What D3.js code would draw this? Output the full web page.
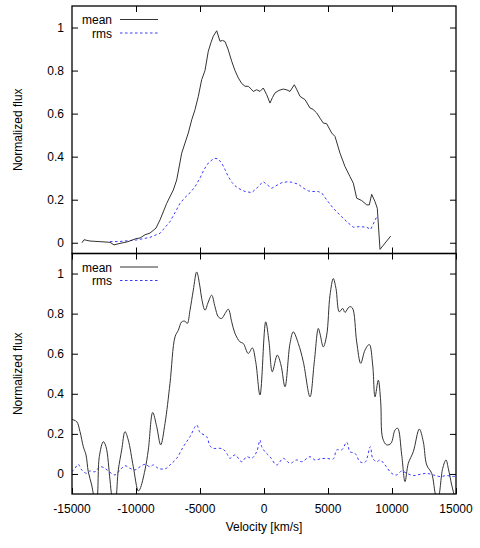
<!DOCTYPE html>
<html>
<head>
<meta charset="utf-8">
<script src="https://cdn.jsdelivr.net/npm/d3@7"></script>
<style>
  body { margin: 0; background: #fff; }
  svg { display: block; }
  text { font-family: "Liberation Sans", Arial, Helvetica, sans-serif; }
</style>
</head>
<body>
<div id="chart"></div>
<script>
// upper panel: mean and rms profiles (velocity km/s, normalized flux)
const topMeanVel = [-14220, -14063, -13594, -12813, -12031, -11719, -11250, -10625, -10000, -9688, -9297, -8906, -8438,
  -8125, -7602, -7086, -6820, -6430, -6172, -5914, -5648, -5391, -5133, -4867, -4609, -4352, -4141, -3961, -3695,
  -3438, -3242, -3047, -2813, -2523, -2266, -2008, -1742, -1484, -1227, -1016, -836, -570, -313, -55, 211, 469,
  664, 859, 1172, 1508, 1797, 2031, 2367, 2578, 2813, 3203, 3594, 3828, 4117, 4375, 4633, 4898, 5289, 5547,
  5938, 6328, 6719, 6977, 7242, 7633, 8023, 8227, 8414, 8672, 8852, 9063, 9898];
const topMeanFlux = [0.0, 0.014, 0.008, 0.005, 0.002, -0.01, -0.003, 0.005, 0.019, 0.022, 0.037, 0.045, 0.068,
  0.106, 0.183, 0.245, 0.292, 0.416, 0.463, 0.51, 0.571, 0.618, 0.68, 0.758, 0.80, 0.89, 0.93, 0.96, 0.985,
  0.936, 0.94, 0.935, 0.90, 0.843, 0.80, 0.766, 0.74, 0.727, 0.727, 0.715, 0.703, 0.711, 0.703, 0.719, 0.688, 0.649,
  0.675, 0.696, 0.708, 0.714, 0.71, 0.703, 0.734, 0.71, 0.68, 0.665, 0.626, 0.62, 0.603, 0.579, 0.556, 0.553, 0.51, 0.494,
  0.416, 0.354, 0.307, 0.277, 0.207, 0.196, 0.176, 0.176, 0.225, 0.191, 0.16, -0.031, 0.031];

const topRmsVel = [-12031, -11250, -9945, -8906, -8125, -7344, -6953, -6563, -6172, -5781, -5391, -5000, -4688,
  -4352, -4063, -3828, -3594, -3305, -3047, -2789, -2500, -2266, -2008, -1484, -961, -570, -313, -55, 234, 602,
  938, 1383, 1797, 2164, 2680, 3047, 3461, 3828, 4242, 4531, 4898, 5414, 5938, 6461, 6977, 7500, 8023, 8336,
  8539, 8805, 8867];
const topRmsFlux = [0.005, 0.006, 0.013, 0.025, 0.044, 0.098, 0.14, 0.183, 0.21, 0.232, 0.26, 0.30, 0.34,
  0.37, 0.385, 0.392, 0.39, 0.37, 0.34, 0.307, 0.28, 0.265, 0.253, 0.238, 0.233, 0.253, 0.27, 0.284, 0.27, 0.253,
  0.265, 0.279, 0.283, 0.281, 0.272, 0.255, 0.241, 0.238, 0.238, 0.23, 0.199, 0.16, 0.129, 0.098, 0.072, 0.075, 0.072, 0.062,
  0.087, 0.121, 0.115];

// lower panel
const botMeanVel = [-15000, -14633, -14375, -14117, -13906, -13727, -13461, -13281, -13086, -12867, -12555, -12344,
  -12031, -11875, -11641, -11383, -11117, -10859, -10602, -10211, -9820, -9688, -9297, -9039, -8695, -8383, -8070,
  -7734, -7344, -6953, -6695, -6430, -6172, -5992, -5781, -5523, -5258, -5000, -4867, -4609, -4352, -4086, -3828,
  -3570, -3305, -3047, -2789, -2523, -2266, -1875, -1617, -1227, -914, -648, -313, 133, 391, 648, 1039, 1328, 1641,
  2031, 2289, 2680, 3070, 3594, 3930, 4242, 4375, 4633, 4898, 5156, 5414, 5625, 5883, 6148, 6328, 6664, 6898, 7242,
  7555, 7891, 8227, 8492, 8672, 8930, 9117, 9273, 9586, 9922, 10234, 10445, 10758, 11016, 11273, 11664, 12133,
  12445, 12711, 13102, 13438, 13594, 13961, 14219, 14398, 14664, 14922];
const botMeanFlux = [0.272, 0.261, 0.211, 0.136, 0.095, 0.011, -0.055, -0.11, -0.13, 0.086, 0.161, 0.136,
  -0.03, -0.11, -0.14, 0.02, 0.12, 0.211, 0.169, 0.036, -0.085, -0.075, 0.02, 0.12, 0.307, 0.236, 0.145,
  0.252, 0.452, 0.684, 0.717, 0.759, 0.762, 0.751, 0.817, 0.917, 1.008, 0.933, 0.875, 0.817, 0.858, 0.892, 0.834,
  0.784, 0.776, 0.80, 0.822, 0.759, 0.701, 0.659, 0.651, 0.601, 0.629, 0.56, 0.394, 0.759, 0.659, 0.51, 0.593, 0.543, 0.435,
  0.651, 0.709, 0.651, 0.56, 0.385, 0.56, 0.726, 0.70, 0.634, 0.693, 0.892, 0.975, 0.925, 0.809, 0.826, 0.806, 0.834, 0.829, 0.659,
  0.552, 0.618, 0.646, 0.543, 0.385, 0.468, 0.36, 0.178, 0.145, 0.153, 0.219, 0.228, 0.095, -0.038, 0.053, 0.111, 0.224,
  0.161, 0.045, 0.003, -0.11, -0.12, 0.028, 0.07, 0.028, -0.055, -0.12];

const botRmsVel = [-15000, -14766, -14508, -14242, -13852, -13594, -13203, -12813, -12422, -12031, -11641, -11250,
  -10859, -10469, -10078, -9688, -9297, -8906, -8648, -8258, -7734, -7344, -6820, -6305, -5781, -5258, -5000, -4477,
  -4219, -3961, -3438, -3125, -2914, -2656, -2266, -1742, -1352, -961, -570, -313, -180, 78, 469, 992, 1508, 2031,
  2555, 2945, 3594, 3984, 4375, 4898, 5414, 5680, 6070, 6461, 6719, 7109, 7500, 7891, 8305, 8492, 8805, 9063, 9453,
  9977, 10367, 10758, 11148, 11664, 12188, 12711, 13234, 13750, 14273, 14789, 15000];
const botRmsFlux = [0.011, 0.028, 0.048, 0.02, 0.003, 0.015, 0.011, 0.036, 0.028, 0.008, -0.005, 0.02,
  0.041, 0.028, 0.02, 0.036, 0.048, 0.036, 0.045, 0.028, 0.025, 0.045, 0.078, 0.136, 0.186, 0.244, 0.207, 0.186,
  0.14, 0.128, 0.128, 0.12, 0.103, 0.078, 0.095, 0.061, 0.086, 0.078, 0.111, 0.169, 0.136, 0.111, 0.086, 0.045, 0.078, 0.053,
  0.07, 0.061, 0.086, 0.07, 0.075, 0.078, 0.075, 0.12, 0.12, 0.158, 0.111, 0.103, 0.061, 0.058, 0.136, 0.078, 0.061, 0.07, 0.045,
  0.003, -0.005, 0.015, 0.003, -0.008, -0.002, 0.003, -0.005, -0.013, -0.008, -0.013, -0.01];

const xTicks = [-15000, -10000, -5000, 0, 5000, 10000, 15000];
const topYTicks = [0, 0.2, 0.4, 0.6, 0.8, 1];
const botYTicks = [0, 0.2, 0.4, 0.6, 0.8, 1];

function zip(vs, fs) { return vs.map((v, i) => ({ v, f: fs[i] })); }

const W = 480, H = 548;
const left = 72, right = 456;
const svg = d3.select("#chart").append("svg").attr("width", W).attr("height", H);

const x = d3.scaleLinear().domain([-15000, 15000]).range([left, right]);

const panels = [
  { id: "top", y0: 6, y1: 253.5, dom: [-0.05, 1.1], ticks: topYTicks,
    mean: zip(topMeanVel, topMeanFlux), rms: zip(topRmsVel, topRmsFlux), labels: false, curve: d3.curveLinear },
  { id: "bot", y0: 253.5, y1: 494, dom: [-0.1, 1.1], ticks: botYTicks,
    mean: zip(botMeanVel, botMeanFlux), rms: zip(botRmsVel, botRmsFlux), labels: true, curve: d3.curveCatmullRom }
];

const tickLen = 6;

panels.forEach((p) => {
  const y = d3.scaleLinear().domain(p.dom).range([p.y1, p.y0]);
  const g = svg.append("g");

  g.append("clipPath").attr("id", "clip-" + p.id)
    .append("rect").attr("x", left).attr("y", p.y0).attr("width", right - left).attr("height", p.y1 - p.y0);

  // y ticks, left + right, pointing inward
  const yl = g.append("g").attr("transform", `translate(${left},0)`)
    .call(d3.axisRight(y).tickValues(p.ticks).tickSize(tickLen).tickFormat(""));
  const yr = g.append("g").attr("transform", `translate(${right},0)`)
    .call(d3.axisLeft(y).tickValues(p.ticks).tickSize(tickLen).tickFormat(""));
  [yl, yr].forEach((a) => { a.select(".domain").remove(); a.selectAll("line").attr("stroke", "#000"); });

  g.selectAll(".ylab").data(p.ticks).join("text")
    .attr("x", left - 8).attr("y", (d) => y(d) + 4.5)
    .attr("text-anchor", "end").attr("font-size", 12).attr("fill", "#000")
    .text((d) => d3.format("~g")(d));

  // x ticks, top + bottom, pointing inward
  const xt = p.labels ? xTicks : xTicks.slice(1, -1);
  const xb = g.append("g").attr("transform", `translate(0,${p.y1})`)
    .call(d3.axisTop(x).tickValues(xt).tickSize(tickLen).tickFormat(""));
  const xtp = g.append("g").attr("transform", `translate(0,${p.y0})`)
    .call(d3.axisBottom(x).tickValues(xt).tickSize(tickLen).tickFormat(""));
  [xb, xtp].forEach((a) => { a.select(".domain").remove(); a.selectAll("line").attr("stroke", "#000"); });

  if (p.labels) {
    g.selectAll(".xlab").data(xTicks).join("text")
      .attr("x", (d) => x(d)).attr("y", p.y1 + 18.5)
      .attr("text-anchor", "middle").attr("font-size", 12).attr("fill", "#000")
      .text((d) => d);
  }

  const line = d3.line().x((d) => x(d.v)).y((d) => y(d.f)).curve(p.curve);
  const plot = g.append("g").attr("clip-path", `url(#clip-${p.id})`);

  plot.append("path").datum(p.rms).attr("d", line)
    .attr("fill", "none").attr("stroke", "#3a3aff").attr("stroke-width", 1)
    .attr("stroke-dasharray", "2.5,2.5");
  plot.append("path").datum(p.mean).attr("d", line)
    .attr("fill", "none").attr("stroke", "#333").attr("stroke-width", 1);

  // frame
  g.append("rect").attr("x", left).attr("y", p.y0).attr("width", right - left).attr("height", p.y1 - p.y0)
    .attr("fill", "none").attr("stroke", "#000").attr("stroke-width", 1.3);

  // legend
  const ly = p.y0 + 13.5;
  const leg = [["mean", "#333", null], ["rms", "#3a3aff", "2.5,2.5"]];
  leg.forEach(([name, col, dash], i) => {
    const yy = ly + i * 13.5;
    g.append("text").attr("x", 112).attr("y", yy + 4.5)
      .attr("text-anchor", "end").attr("font-size", 12).attr("fill", "#000").text(name);
    g.append("line").attr("x1", 120).attr("x2", 158).attr("y1", yy).attr("y2", yy)
      .attr("stroke", col).attr("stroke-width", 1).attr("stroke-dasharray", dash);
  });

  // y axis title
  g.append("text")
    .attr("transform", `translate(22,${(p.y0 + p.y1) / 2}) rotate(-90)`)
    .attr("text-anchor", "middle").attr("font-size", 12).attr("fill", "#000")
    .text("Normalized flux");
});

svg.append("text").attr("x", (left + right) / 2).attr("y", 531)
  .attr("text-anchor", "middle").attr("font-size", 12).attr("fill", "#000")
  .text("Velocity [km/s]");
</script>
</body>
</html>
